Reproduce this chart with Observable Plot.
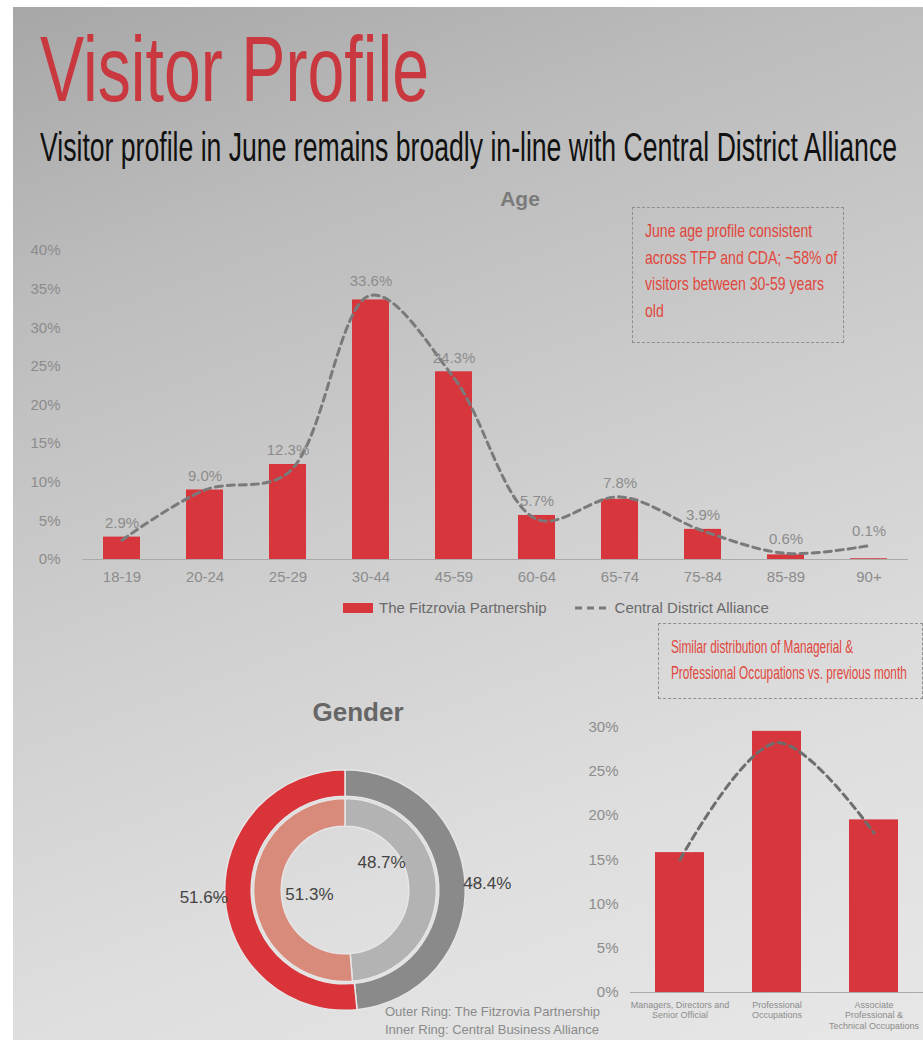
<!DOCTYPE html>
<html><head><meta charset="utf-8">
<script src="https://cdn.jsdelivr.net/npm/d3@7"></script>
<script src="https://cdn.jsdelivr.net/npm/@observablehq/plot@0.6"></script>
<style>
html,body{margin:0;padding:0;width:923px;height:1040px;overflow:hidden;background:#fff;font-family:"Liberation Sans",Arial,sans-serif;}
#panel{position:absolute;left:13px;top:7px;width:910px;height:1033px;overflow:hidden;
  background:linear-gradient(160deg,#a7a7a7 0%,#bcbcbc 22%,#cfcfcf 50%,#dedede 75%,#e7e7e7 100%);}
.abs{position:absolute;}
.narrow{display:inline-block;transform-origin:0 0;white-space:nowrap;}
#title{left:27px;top:16px;font-size:92px;color:#c8383e;white-space:nowrap;line-height:1;}
#title .narrow{transform:scaleX(0.72);}
#subtitle{left:27px;top:118px;font-size:40px;color:#111;white-space:nowrap;line-height:1.1;}
#subtitle .narrow{transform:scaleX(0.665);}
#ageHead{left:437px;top:180px;width:140px;text-align:center;font-size:21px;font-weight:bold;color:#7b7b7b;}
.box{border:1.5px dashed #8f8f8f;color:#e0473d;padding:10px 12px;box-sizing:border-box;}
#box1{left:619px;top:200px;width:212px;height:136px;font-size:19px;line-height:1.4;}
#box1 .narrow{transform:scaleX(0.74);}
#box2{left:645px;top:616px;width:265px;height:76px;font-size:19px;line-height:1.35;}
#box2 .narrow{transform:scaleX(0.62);}
#legend{left:330px;top:592px;font-size:15px;color:#6a6a6a;display:flex;align-items:center;white-space:nowrap;}
#legend .sw{display:inline-block;width:30px;height:10px;background:#d7363c;margin-right:6px;}
#legend svg{margin:0 6px 0 28px;}
#genderHead{left:265px;top:690px;width:160px;text-align:center;font-size:26px;font-weight:bold;color:#666;}
#caption{left:372px;top:996px;font-size:13px;color:#8a8a8a;line-height:1.35;white-space:nowrap;}
</style></head>
<body>
<div id="panel">
  <div id="title" class="abs"><span class="narrow">Visitor Profile</span></div>
  <div id="subtitle" class="abs"><span class="narrow">Visitor profile in June remains broadly in-line with Central District Alliance</span></div>
  <div id="ageHead" class="abs">Age</div>
  <div id="agePlot" class="abs" style="left:7px;top:203px;"></div>
  <div id="box1" class="abs box"><span class="narrow">June age profile consistent<br>across TFP and CDA; ~58% of<br>visitors between 30-59 years<br>old</span></div>
  <div id="legend" class="abs"><span class="sw"></span>The Fitzrovia Partnership<svg width="34" height="10"><line x1="0" y1="5" x2="34" y2="5" stroke="#7a7a7a" stroke-width="3" stroke-dasharray="7,5"/></svg>Central District Alliance</div>
  <div id="box2" class="abs box"><span class="narrow">Similar distribution of Managerial &amp;<br>Professional Occupations vs. previous month</span></div>
  <div id="genderHead" class="abs">Gender</div>
  <div id="donutPlot" class="abs" style="left:172px;top:738px;"></div>
  <div id="caption" class="abs">Outer Ring: The Fitzrovia Partnership<br>Inner Ring: Central Business Alliance</div>
  <div id="occPlot" class="abs" style="left:572px;top:693px;"></div>
</div>
<script>
// ---------- Data ----------
const ageGroups = ["18-19","20-24","25-29","30-44","45-59","60-64","65-74","75-84","85-89","90+"];
const ageTFP = [2.9, 9.0, 12.3, 33.6, 24.3, 5.7, 7.8, 3.9, 0.6, 0.1];
const ageCDA = [2.5, 9.0, 11.2, 34.2, 23.5, 5.2, 8.1, 3.7, 0.8, 1.8];
const ageTicks = [0, 5, 10, 15, 20, 25, 30, 35, 40];

const occGroups = ["Managers, Directors and\nSenior Official", "Professional\nOccupations", "Associate\nProfessional &\nTechnical Occupations"];
const occTFP = [15.8, 29.5, 19.5];
const occCDA = [15.0, 28.2, 18.0];
const occTicks = [0, 5, 10, 15, 20, 25, 30];

const genderLabels = ["Male", "Female"];
const genderOuterTFP = [48.4, 51.6];
const genderInnerCBA = [48.7, 51.3];

const red = "#d7363c";
const font = "'Liberation Sans', Arial, sans-serif";

// ---------- Age chart ----------
const ageData = ageGroups.map((g, i) => ({g, tfp: ageTFP[i], cda: ageCDA[i]}));
const ageChart = Plot.plot({
  width: 900, height: 385,
  marginLeft: 62, marginRight: 12, marginTop: 40, marginBottom: 36,
  style: {background: "transparent", fontFamily: font, fontSize: "15px", color: "#8c8c8c", overflow: "visible"},
  x: {domain: ageGroups, paddingInner: 0.55, paddingOuter: 0.25, label: null, tickSize: 0, tickPadding: 12},
  y: {domain: [0, 40], ticks: ageTicks, tickFormat: d => d + "%", label: null, tickSize: 0, tickPadding: 22},
  marks: [
    Plot.ruleY([0], {stroke: "#aaaaaa", strokeWidth: 1}),
    Plot.barY(ageData, {x: "g", y: "tfp", fill: red}),
    Plot.line(ageData, {x: "g", y: "cda", curve: "catmull-rom", stroke: "#7a7a7a", strokeWidth: 3, strokeDasharray: "7,5"}),
    Plot.text(ageData, {x: "g", y: d => Math.max(d.tfp, d.cda), text: d => d.tfp.toFixed(1) + "%", dy: -14, fill: "#8c8c8c", fontSize: 15})
  ]
});
document.getElementById("agePlot").append(ageChart);

// ---------- Occupation chart ----------
const occData = occGroups.map((g, i) => ({g, tfp: occTFP[i], cda: occCDA[i]}));
const occChart = Plot.plot({
  width: 338, height: 347,
  marginLeft: 45, marginRight: 0, marginTop: 22, marginBottom: 55,
  style: {background: "transparent", fontFamily: font, fontSize: "15px", color: "#8c8c8c", overflow: "visible"},
  x: {domain: occGroups, paddingInner: 0.5, paddingOuter: 0.25, label: null, axis: null},
  y: {domain: [0, 30.5], ticks: occTicks, tickFormat: d => d + "%", label: null, tickSize: 0, tickPadding: 12},
  marks: [
    Plot.ruleY([0], {stroke: "#aaaaaa", strokeWidth: 1}),
    Plot.barY(occData, {x: "g", y: "tfp", fill: red}),
    Plot.line(occData, {x: "g", y: "cda", curve: "catmull-rom", stroke: "#6e6e6e", strokeWidth: 3, strokeDasharray: "7,5"}),
    Plot.axisX({tickSize: 0, tickPadding: 8, fontSize: 9, fill: "#8c8c8c", lineHeight: 1.15})
  ]
});
document.getElementById("occPlot").append(occChart);

// ---------- Gender donut ----------
function slices(values, r0, r1, colors) {
  const pie = d3.pie().sort(null).value(d => d)(values);
  return pie.map((p, i) => ({...p, r0, r1, color: colors[i], label: genderLabels[i], mid: (p.startAngle + p.endAngle) / 2}));
}
const outer = slices(genderOuterTFP, 0.78, 1.0, ["#8a8a8a", "#d8343a"]);
const inner = slices(genderInnerCBA, 0.53, 0.76, ["#b3b3b3", "#d98b7b"]);
const allSlices = outer.concat(inner);

const outerLabels = outer.map(s => ({
  text: s.value.toFixed(1) + "%",
  x1: Math.sin(s.mid) * 1.03, y1: Math.cos(s.mid) * 1.03,
  x2: Math.sin(s.mid) * 1.13, y2: Math.cos(s.mid) * 1.13,
  tx: Math.sin(s.mid) * 1.18, ty: Math.cos(s.mid) * 1.18,
  anchor: Math.sin(s.mid) < 0 ? "end" : "start"
}));
const innerLabels = inner.map(s => ({
  text: s.value.toFixed(1) + "%",
  tx: Math.sin(s.mid) * 0.3, ty: Math.cos(s.mid) * 0.3 + (Math.sin(s.mid) < 0 ? -0.02 : 0.22)
}));

const donutMark = (index, scales) => {
  const k = scales.x(1) - scales.x(0);
  const cx = scales.x(0), cy = scales.y(0);
  const g = d3.create("svg:g").attr("transform", `translate(${cx},${cy})`);
  const arc = d3.arc();
  g.selectAll("path").data(allSlices).join("path")
    .attr("d", d => arc({innerRadius: d.r0 * k, outerRadius: d.r1 * k, startAngle: d.startAngle, endAngle: d.endAngle}))
    .attr("fill", d => d.color)
    .attr("stroke", "#e6e6e6").attr("stroke-width", 1.5);
  return g.node();
};

const donut = Plot.plot({
  width: 320, height: 290, margin: 0,
  style: {background: "transparent", fontFamily: font, overflow: "visible"},
  x: {domain: [-1.33, 1.33], axis: null},
  y: {domain: [-1.205, 1.205], axis: null},
  marks: [
    donutMark,
    Plot.link(outerLabels, {x1: "x1", y1: "y1", x2: "x2", y2: "y2", stroke: "#9a9a9a", strokeWidth: 1}),
    Plot.text(outerLabels, {x: "tx", y: "ty", text: "text", textAnchor: "anchor", fontSize: 17, fill: "#444"}),
    Plot.text(innerLabels, {x: "tx", y: "ty", text: "text", fontSize: 17, fill: "#444"})
  ]
});
document.getElementById("donutPlot").append(donut);
</script>
</body></html>
